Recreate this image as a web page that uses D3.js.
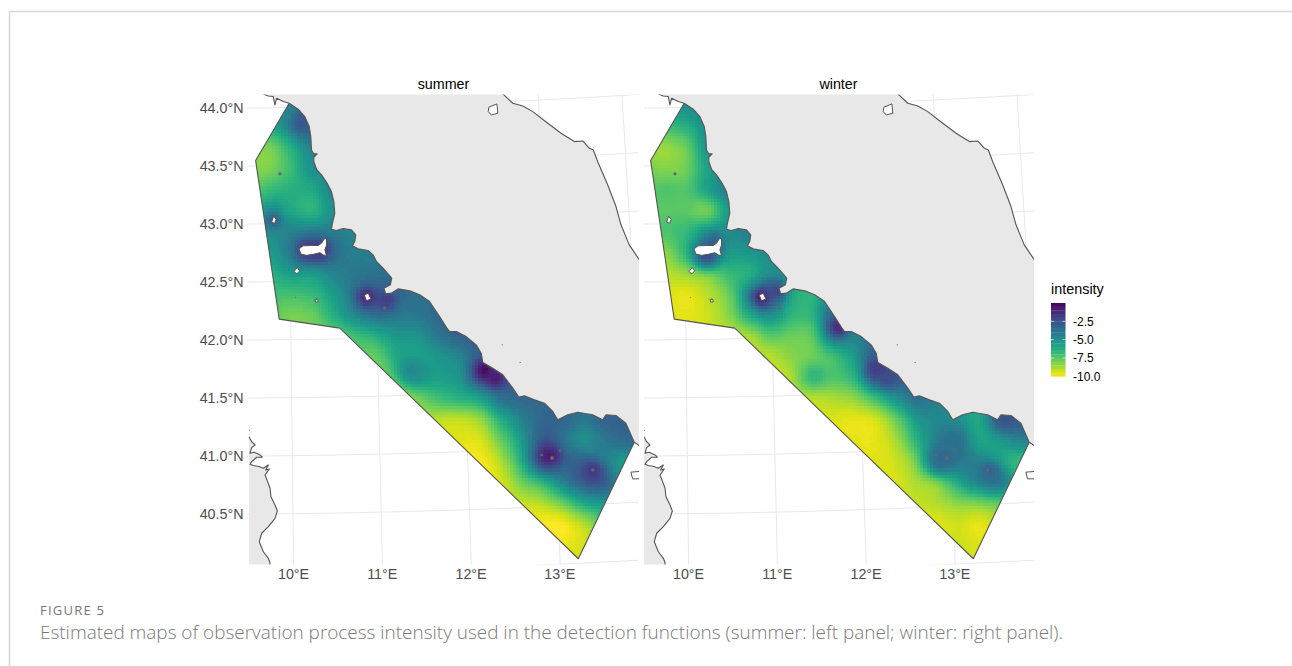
<!DOCTYPE html>
<html><head><meta charset="utf-8">
<script src="https://d3js.org/d3.v7.min.js"></script>
<style>html,body{margin:0;padding:0;background:#fff}svg{display:block}text{font-family:"Liberation Sans",Arial,sans-serif}</style>
</head><body><svg id="c" width="1292" height="666"></svg>
<script>
// ---- chart values: map geometry in km east / km north of the panel's south-west corner
const panelNames = ["summer", "winter"];
const latTicks = [40.5, 41, 41.5, 42, 42.5, 43, 43.5, 44];
const lonTicks = [10, 11, 12, 13];
const legendTicks = [-2.5, -5, -7.5, -10];

const nwCoast = [[12.7,451],[17.5,449.1],[22.3,448.5],[23.9,440.5],[25.5,446.9],[31.9,443.7],[37.6,442.1]];
const mainCoast = [[37.6,442.1],[46.2,436.4],[52.6,429.3],[56.8,419.8],[58.3,410.2],[59,397.4],[61.2,393.6],[64.4,393.6],[61.2,390.4],[61.2,386.3],[63.8,378.9],[68.6,373.5],[74,365.5],[78.1,357.6],[80.4,348],[81.3,336.8],[79.1,327.3],[78.1,321.5],[82.9,320.2],[89.3,322.2],[97.3,320.9],[101.4,316.1],[100.5,309.7],[98.2,305.6],[103.6,302.7],[113.2,301.1],[118,297],[121.2,290.6],[127.6,284.2],[132.4,278.8],[135.9,274.6],[134.6,268.2],[128.5,265],[130.1,259.6],[135.5,260.3],[141.9,264.4],[153.1,262.5],[162.7,258.7],[172.2,252.3],[181.8,237.9],[188.8,226.8],[191.4,223.5],[197.8,223.5],[207.3,218.7],[216.9,210.8],[221.7,202.8],[223.3,193.9],[232.8,188.4],[242.4,182.1],[252,169.3],[257.7,160.7],[263.1,162],[272.7,158.1],[282.3,154.9],[290.3,147],[295,139],[304.6,143.8],[314.2,146.3],[328.5,143.8],[338.1,139],[341.3,143.8],[350.9,143.1],[360.4,135.8],[368.4,117.6]];
const coastTail = [[368.4,117.6],[372.2,115],[376,112]];
const neCoast = [[242.4,451],[252,442.1],[261.6,439.5],[271.1,434.1],[285.5,423],[298.2,413.4],[311,405.4],[319,406],[325.4,399],[329.2,397.4],[333.3,386.3],[342.9,364],[350.9,343.2],[355.7,325.7],[363.6,306.5],[372.2,293.8],[376,288]];
const southWestLand = [[-1,122.9],[1.6,118.1],[4.8,114.9],[1.6,112.4],[0,107],[4.1,108],[9.6,105.4],[11.8,103.2],[6.4,103.2],[1.6,99],[0,96.4],[3.2,95.2],[8.6,94.3],[12.7,92.6],[17.6,95.8],[15,91],[18.5,92],[14.4,86.2],[16.9,79.8],[19.2,73.5],[20.1,65.4],[24,57.5],[26.2,51.7],[24,44.7],[17.6,36.7],[11.2,30.4],[8.9,22.3],[12.8,12.7],[17.6,6.4],[19.2,2.2],[19,-1],[-1,-1],[-1,122.9]];
const seaBoundary = [[37.6,442.1],[5.4,387.2],[28,235.4],[86.1,226.8],[314.8,6],[368.4,117.6]];
const whiteIslands = [
  [[46.9,302.7],[51,305.6],[59.1,305.9],[65.4,305.9],[68.6,308.1],[71.2,312.3],[73.4,312.9],[73.4,306.5],[71.8,301.7],[73.4,296.3],[70.2,296.9],[67,299],[60.7,297.5],[54.3,296.5],[48.9,297.6]],
  [[22.6,334],[25,331],[23.6,327],[20.8,328.5]],
  [[45.3,284.8],[47.6,281.6],[45,278.7],[42.1,281]],
  [[109.5,258.6],[113.3,260.2],[115.9,254.8],[111.8,252.9]],
  [[229,438.3],[236.7,441.5],[237.6,432.5],[231.3,430.9],[228.4,434.1]],
  [[365.2,88.9],[374,89.6],[374,82.5],[366.8,82.5]],
  [[62.3,254.5],[65,254.5],[65.4,252],[63,251.6]]
];
const islets = [[28.7,374.5,1.5],[129.2,245.9,1.5],[111,280.4,.7],[43.7,256.1,.5],[82.9,312,.6],[241.8,210.8,.6],[259,193.9,.6],[279.7,105.4,1.3],[289.6,102.5,1.9],[296.9,109.5,1.1],[328.6,91,1.7],[-0.5,129,.5]];

// intensity: [km north, km east of first value, values...]
const summerRows = [
 [0,300,-9.5,-9.2],[20,300,-9.8,-9.4],[40,280,-10,-10,-8.9,-7.5],
 [60,260,-9.2,-8.9,-7.7,-6,-5.3,-5.3],[80,220,-10,-9.5,-7.9,-6.5,-4.5,-3,-3,-5.5],
 [100,220,-10,-8.9,-6.3,-2.5,-3.2,-3.3,-4.3,-5.5],[120,200,-9.6,-9.5,-7.8,-5.5,-3,-3.8,-5,-4,-3.5],
 [140,180,-9,-9.1,-8.5,-6.3,-4.5,-3.3,-3.3,-4,-3.2,-3.2],[160,140,-8.5,-8,-7,-6.5,-5.8,-3.9,-3.4],
 [180,120,-8,-7.3,-5.5,-5.7,-5.2,-3,-3],[200,100,-7.5,-7.7,-6.3,-6,-5.3,-4.6,-3],
 [220,60,-8,-7.5,-7,-6.3,-5.3,-5.2,-4,-3.2],[240,20,-7.5,-8,-7.7,-6.3,-4.8,-3.8,-4,-4,-3.4],
 [260,20,-7,-7,-6.7,-5.5,-4,-3.2,-3.4,-3.7],[280,20,-6.3,-5.5,-5.5,-4.5,-4,-3.8],
 [300,20,-5.5,-4.2,-3.3,-3.8,-4.3,-4.3],[320,20,-5,-4.5,-4.5,-4.3,-4.5],[340,20,-5.2,-6,-6.5,-5],
 [360,0,-7.5,-6.8,-6.3,-6,-4.5],[380,0,-8.3,-8,-6.8,-5,-4.5],[400,0,-8,-8,-6.3,-4.5],
 [420,20,-6,-5,-3.5],[440,20,-5,-4.5,-3.8],[460,20,-5,-4.5,-3.8]
];
const winterRows = [
 [0,300,-9.3,-9.5],[20,300,-9.3,-9.5],[40,280,-9.6,-9.3,-9.7,-9],
 [60,260,-9.2,-8.9,-8.3,-8,-7.5,-7.2],[80,220,-9.7,-9.5,-8.8,-8,-6,-4.5,-4,-6.5],
 [100,220,-9.6,-9.3,-7.8,-3.9,-4,-4.6,-5.8,-6.8],[120,200,-9.7,-9.7,-8.8,-6.5,-4.4,-3.8,-5.8,-5.5,-4.5],
 [140,180,-9.5,-9.7,-9.4,-7.8,-5.5,-4.7,-5,-6,-4,-3],[160,140,-8.8,-9,-8.8,-8.4,-7,-5.2,-3.8],
 [180,120,-9,-8.8,-6.7,-7.3,-6.5,-3.4,-3],[200,100,-9,-9,-8.3,-7.8,-7,-5.5,-3],
 [220,60,-9.3,-9,-8.7,-7.5,-7.8,-7.5,-4.5,-4.5],[240,20,-9.5,-9.7,-9.3,-8.3,-6.2,-5,-6.5,-6.5,-3.5],
 [260,20,-9.5,-9.7,-9,-7.8,-5,-3.5,-6,-6.5],[280,20,-9,-8.5,-8,-6.8,-6.3,-5],
 [300,20,-8.3,-6.5,-4.5,-5.5,-5.3,-4.8],[320,20,-7.2,-6.7,-5.5,-5,-4.3],[340,20,-7.5,-7.5,-7.8,-5.5],
 [360,0,-7.5,-7.3,-7.3,-5.8,-4.2],[380,0,-8,-8.2,-7.8,-5.8,-5],[400,0,-8.5,-8.5,-7.7,-5.3],
 [420,20,-7,-6.3,-5],[440,20,-5.5,-5,-4.5],[460,20,-5.5,-5,-4.5]
];
// narrow local extremes seen between grid nodes: [km east, km north, value, radius km]
const summerSpots = [[49.4,423,-2.7,9],[111.6,257,-1,7],[130.8,254,-1.8,7],[55,302,-1.6,8],[68,302,-1.6,8],[22.3,330.5,-3,6],[224.9,186.8,-.2,7],[236,179,-.8,7],[287,105.4,-.8,8],[328.6,91,-1.6,7],[154.7,188.4,-4.7,9]];
const winterSpots = [[111.6,257,-.8,7],[126,263,-2.2,7],[59,297,-2.4,8],[66,309,-3,7],[185,228,-1.2,7],[221.7,188.4,-1.7,7],[233,179,-2.3,7],[345,140.6,-2.5,9],[295,120,-3.8,8],[330.5,91,-3.2,7],[283.7,100.7,-3.5,8]];

// ---- scales
const cellKm = 3, gridKm = 20, nCols = 20, nRows = 24;
const xKm = d3.scaleLinear().domain([0,372]).range([250,638]);
const yKm = d3.scaleLinear().domain([0,450]).range([565,95]);
const panelShift = [0,395];
const color = d3.scaleSequential(d3.interpolateViridis).domain([0,-10.1]);
const legendY = d3.scaleLinear().domain([0,-10]).range([303,376.3]);
const projection = d3.geoTransverseMercator().rotate([-9,0]).scale(6646).translate([0,0]);
const a0 = projection([10,40.1]), a1 = projection([9.5,40.5]);
projection.translate([293.5-a0[0],514-a1[1]]);
const geoPath = d3.geoPath(projection);

const line = d3.line().x(d=>xKm(d[0])).y(d=>yKm(d[1]));
const svg = d3.select("#c");
const defs = svg.append("defs");
defs.append("filter").attr("id","soft").attr("x",0).attr("y",0).attr("width",1).attr("height",1)
  .append("feGaussianBlur").attr("stdDeviation",.4);
const body = svg.append("g");

// page frame
body.append("path").attr("d","M9.5 666V11.5H1292").attr("fill","none").attr("stroke","#d8d8d8").attr("stroke-width",1.5);

// fill a full grid from sparse rows
function buildGrid(rows){
  const g = d3.range(nRows).map(()=>new Array(nCols).fill(null));
  rows.forEach(r=>{ const i=r[0]/gridKm, j0=r[1]/gridKm; r.slice(2).forEach((v,k)=>g[i][j0+k]=v); });
  for(let pass=0;pass<40;pass++){
    const snap=g.map(r=>r.slice());
    for(let i=0;i<nRows;i++)for(let j=0;j<nCols;j++)if(snap[i][j]===null){
      const n=[[i-1,j],[i+1,j],[i,j-1],[i,j+1]].filter(([a,b])=>a>=0&&b>=0&&a<nRows&&b<nCols&&snap[a][b]!==null).map(([a,b])=>snap[a][b]);
      if(n.length)g[i][j]=d3.mean(n);
    }
  }
  return g;
}
const cr=(p0,p1,p2,p3,t)=>0.5*((2*p1)+(-p0+p2)*t+(2*p0-5*p1+4*p2-p3)*t*t+(-p0+3*p1-3*p2+p3)*t*t*t);
function sampler(g,spots){
  const at=(i,j)=>g[Math.max(0,Math.min(nRows-1,i))][Math.max(0,Math.min(nCols-1,j))];
  return (e,n)=>{
    const fx=e/gridKm, fy=n/gridKm, j=Math.floor(fx), i=Math.floor(fy), tx=fx-j, ty=fy-i;
    const rows=[-1,0,1,2].map(di=>cr(at(i+di,j-1),at(i+di,j),at(i+di,j+1),at(i+di,j+2),tx));
    let v=cr(rows[0],rows[1],rows[2],rows[3],ty);
    spots.forEach(s=>{const d2=(e-s[0])**2+(n-s[1])**2; v+=(s[2]-v)*Math.exp(-d2/(2*s[3]*s[3]));});
    return Math.max(-10.1,Math.min(0,v));
  };
}

const seaRing = seaBoundary.concat(mainCoast.slice().reverse().slice(1));
const landRing = nwCoast.concat(mainCoast.slice(1),coastTail.slice(1),[[376,288]],neCoast.slice().reverse().slice(1));

[[summerRows,summerSpots],[winterRows,winterSpots]].forEach(([rows,spots],pi)=>{
  const name=panelNames[pi], shift=panelShift[pi];
  const left=pi===0?247:249;
  defs.append("clipPath").attr("id","panel"+pi).append("rect").attr("x",left).attr("y",94.5).attr("width",639-left).attr("height",470);
  defs.append("clipPath").attr("id","sea"+pi).append("path").attr("d",line(seaRing)+"Z");
  const g=body.append("g").attr("transform",`translate(${shift},0)`);
  g.append("text").attr("x",443.5).attr("y",88.5).attr("text-anchor","middle").attr("font-size",14.3).attr("fill","#000").text(name);
  const p=g.append("g").attr("clip-path",`url(#panel${pi})`).append("g").attr("filter","url(#soft)");
  // graticule
  latTicks.concat([40,44.5]).forEach(lat=>{
    p.append("path").datum({type:"LineString",coordinates:d3.range(8.5,15,.25).map(l=>[l,lat])}).attr("d",geoPath).attr("fill","none").attr("stroke","#e8e8e8").attr("stroke-width",1);
  });
  lonTicks.concat([14]).forEach(lon=>{
    p.append("path").datum({type:"LineString",coordinates:d3.range(39.5,45,.25).map(l=>[lon,l])}).attr("d",geoPath).attr("fill","none").attr("stroke","#e8e8e8").attr("stroke-width",1);
  });
  // raster
  const f=sampler(buildGrid(rows),spots), cells=[];
  for(let e=0;e<372;e+=cellKm)for(let n=0;n<450;n+=cellKm)
    if(d3.polygonContains(seaRing,[e+cellKm/2,n+cellKm/2])||d3.polygonContains(seaRing,[e,n])||d3.polygonContains(seaRing,[e+cellKm,n+cellKm])||d3.polygonContains(seaRing,[e+cellKm,n])||d3.polygonContains(seaRing,[e,n+cellKm]))
      cells.push([e,n,f(e+cellKm/2,n+cellKm/2)]);
  p.append("g").attr("clip-path",`url(#sea${pi})`).attr("shape-rendering","crispEdges").selectAll("rect").data(cells).join("rect")
    .attr("x",d=>xKm(d[0])).attr("y",d=>yKm(d[1]+cellKm))
    .attr("width",xKm(cellKm)-xKm(0)+.6).attr("height",yKm(0)-yKm(cellKm)+.6)
    .attr("fill",d=>color(d[2]));
  // land
  p.append("path").attr("d",line(landRing)+"Z").attr("fill","#e8e8e8");
  p.append("path").attr("d",line(southWestLand)+"Z").attr("fill","#e8e8e8");
  // outlines
  [nwCoast,mainCoast,coastTail,neCoast,southWestLand.slice(0,-2),seaBoundary].forEach(c=>{
    p.append("path").attr("d",line(c)).attr("fill","none").attr("stroke","#555").attr("stroke-width",1.1).attr("stroke-linejoin","round");
  });
  p.selectAll("path.isl").data(whiteIslands).join("path").attr("class","isl").attr("d",d=>line(d)+"Z").attr("fill","#fff").attr("stroke","#555").attr("stroke-width",1);
  p.selectAll("circle").data(islets).join("circle").attr("cx",d=>xKm(d[0])).attr("cy",d=>yKm(d[1])).attr("r",d=>xKm(d[2])-xKm(0)).attr("fill","#666");
  // x labels
  lonTicks.forEach(lon=>{
    g.append("text").attr("x",projection([lon,40.08])[0]).attr("y",579).attr("text-anchor","middle").attr("font-size",14.3).attr("fill","#4d4d4d").text(lon+"°E");
  });
});

// y labels
latTicks.forEach(lat=>{
  body.append("text").attr("x",243.5).attr("y",projection([9.5,lat])[1]+5).attr("text-anchor","end").attr("font-size",14.3).attr("fill","#4d4d4d").text(d3.format(".1f")(lat)+"°N");
});

// legend
const leg=body.append("g");
leg.append("text").attr("x",1051).attr("y",294).attr("font-size",14.4).attr("fill","#000").text("intensity");
const stops=d3.range(0,-10.01,-0.5);
leg.selectAll("rect").data(stops.slice(0,-1)).join("rect").attr("x",1051).attr("y",d=>legendY(d)).attr("width",14.5).attr("height",d=>legendY(d-.5)-legendY(d)+.3).attr("fill",d=>color(d-.25));
legendTicks.forEach(t=>{
  const y=legendY(t);
  leg.append("path").attr("d",`M1051 ${y}h3M1062.5 ${y}h3`).attr("stroke","#fff").attr("stroke-width",.6).attr("opacity",t===-10?0:1);
  leg.append("text").attr("x",1073).attr("y",y+4.3).attr("font-size",12).attr("fill","#000").text(t.toFixed(1));
});

// caption
body.append("text").attr("x",40).attr("y",615).attr("font-size",13).attr("fill","#777").style("font-family","'Open Sans'").attr("textLength",64).text("FIGURE 5");
body.append("text").attr("x",40).attr("y",639).attr("font-size",18).attr("fill","#7a7a7a").style("font-family","'Open Sans'").style("font-weight",300).attr("textLength",1023).attr("lengthAdjust","spacingAndGlyphs").text("Estimated maps of observation process intensity used in the detection functions (summer: left panel; winter: right panel).");
</script></body></html>
